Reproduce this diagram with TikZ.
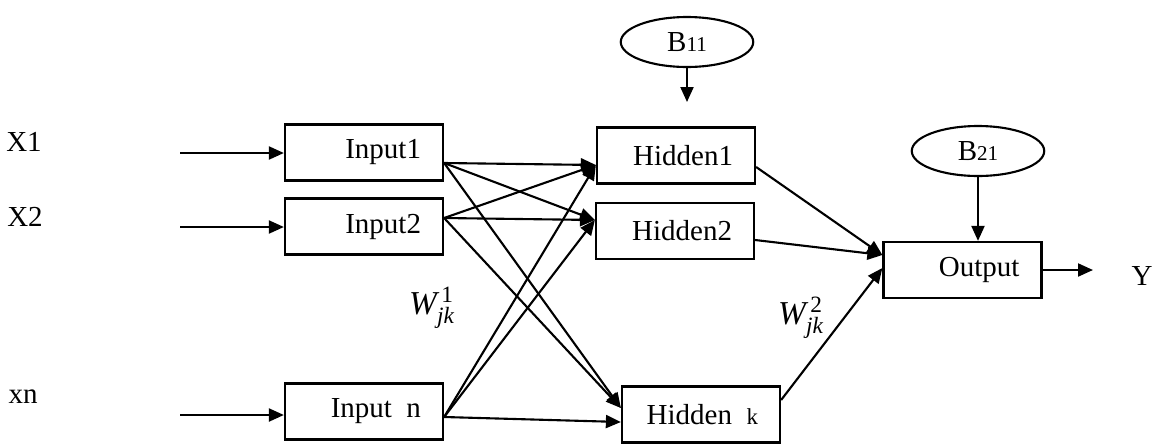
\documentclass[tikz,border=0pt]{standalone}
\usepackage{amsmath}
\usepackage{fontspec}
\setmainfont{Liberation Serif}
\usetikzlibrary{arrows.meta,shapes.geometric}
\begin{document}
\begin{tikzpicture}[x=0.02cm,y=-0.02cm,font=\fontsize{16.5}{19}\selectfont]
    \tikzstyle{unit}=[rectangle,draw,line width=1.3pt,minimum width=3.16cm,minimum height=1.12cm,
                      inner xsep=0.44cm,text width=2.28cm,align=right]
    \tikzstyle{bias}=[ellipse,draw,line width=1.2pt,minimum width=2.65cm,minimum height=1cm]
    \tikzstyle{link}=[line width=1.2pt,-{Triangle[length=0.3cm,width=0.26cm]}]
    \tikzstyle{weight}=[font=\fontsize{19}{21}\selectfont]
    \useasboundingbox (0,0) rectangle (1157,444);

    \node[unit] (in1) at (364,152.5) {Input1};
    \node[unit] (in2) at (364,226.5) {Input2};
    \node[unit] (inn) at (364,411.5) {Input\enspace n};
    \node[unit] (h1)  at (676,155.5) {Hidden1};
    \node[unit] (h2)  at (675,231)   {Hidden2};
    \node[unit] (hk)  at (701,414.5) {Hidden\enspace{\fontsize{13}{13}\selectfont k}};
    \node[unit] (out) at (962.5,270) {Output};
    \node[bias] (b11) at (687,42)  {B{\fontsize{12}{12}\selectfont 11}};
    \node[bias] (b21) at (978,151) {B{\fontsize{12}{12}\selectfont 21}};

    \node (x1) at (24,142)   {X1};
    \node (x2) at (25,217)   {X2};
    \node (xn) at (23,397)   {xn};
    \node (y)  at (1142,276) {Y};
    \node[weight] (w1) at (432,308) {$\textit{W}^{\,\textup{1}}_{\textit{jk}}$};
    \node[weight] (w2) at (801,318) {$\textit{W}^{\,\textup{2}}_{\textit{jk}}$};

    \coordinate (s1) at (180,153);
    \coordinate (s2) at (180,227);
    \coordinate (sn) at (180,415);
    \coordinate (b11end) at (687,102);
    \coordinate (yend) at (1093,270);

    % inputs
    \draw[link] (s1) -- (s1 -| in1.west);
    \draw[link] (s2) -- (s2 -| in2.west);
    \draw[link] (sn) -- (sn -| inn.west);

    % input -> hidden
    \foreach \a/\da in {in1/-0.21,in2/0.17,inn/-0.11}{
        \draw[link] ([yshift=\da cm]\a.east) -- ([yshift=-0.19cm]h1.west);
        \draw[link] ([yshift=\da cm]\a.east) -- ([yshift=0.22cm]h2.west);
    }
    \draw[link] ([yshift=-0.21cm]in1.east) -- ([yshift=0.13cm]hk.west);
    \draw[link] ([yshift=0.17cm]in2.east)  -- ([yshift=0.13cm]hk.west);
    \draw[link] ([yshift=-0.11cm]inn.east) -- ([yshift=-0.15cm]hk.west);

    % hidden -> output
    \draw[link] ([yshift=-0.23cm]h1.east) -- ([yshift=0.3cm]out.west);
    \draw[link] ([yshift=-0.18cm]h2.east) -- ([yshift=0.3cm]out.west);
    \draw[link] ([yshift=0.29cm]hk.east)  -- ([yshift=0.04cm]out.west);

    % biases and output
    \draw[link] (b11.south) -- (b11end);
    \draw[link] (b21.south) -- (b21.south |- out.north);
    \draw[link] (out.east) -- (yend);

\end{tikzpicture}
\end{document}
